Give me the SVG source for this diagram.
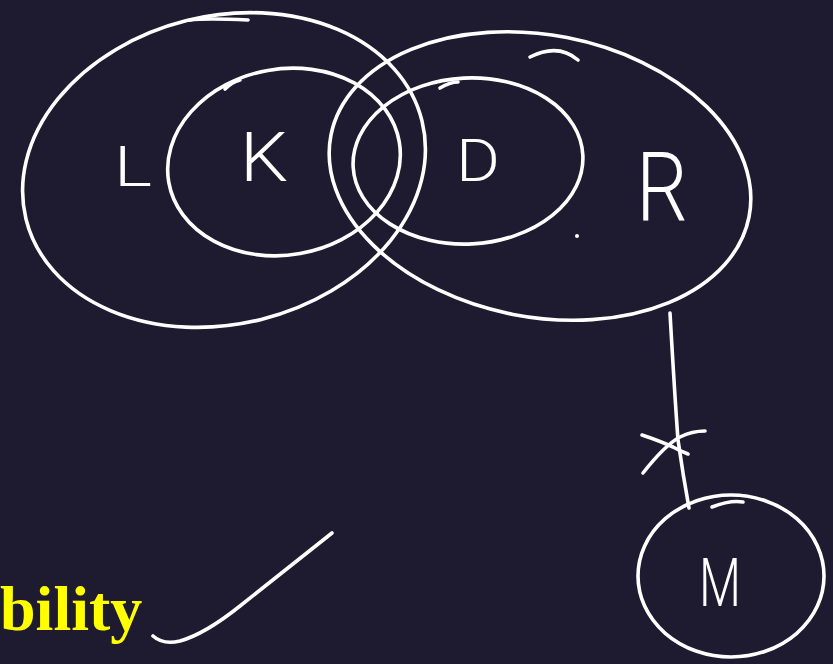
<svg xmlns="http://www.w3.org/2000/svg" width="833" height="664" viewBox="0 0 833 664">
<style>
.s{fill:none;stroke:#fff;stroke-width:3.6;stroke-linecap:round;stroke-linejoin:round}
.t{fill:#fff;font-family:Roboto,"Open Sans","DejaVu Sans",sans-serif;font-weight:300}
.y{fill:#ffff00;font-family:"Liberation Serif","Times New Roman",serif;font-weight:bold}
</style>
<rect width="833" height="664" fill="#1e1a30"/>
<g id="L">
<ellipse class="s" cx="224" cy="170" rx="204" ry="154" transform="rotate(-14 224 170)"/>
<path class="s" d="M248 20 C228 19 205 18 190 20"/>
<text class="t" x="114" y="186" font-size="56" textLength="38" lengthAdjust="spacingAndGlyphs">L</text>
</g>
<g id="K">
<ellipse class="s" cx="284" cy="162" rx="117" ry="93" transform="rotate(-10 284 162)"/>
<path class="s" d="M225 89 Q232 82 240 80"/>
<text class="t" x="240" y="181" font-size="68" textLength="48" lengthAdjust="spacingAndGlyphs">K</text>
</g>
<g id="R">
<ellipse class="s" cx="540" cy="176" rx="213" ry="141" transform="rotate(11 540 176)"/>
<path class="s" d="M530 57 Q558 43 578 60"/>
<text class="t" x="636" y="221" font-size="96" textLength="52" lengthAdjust="spacingAndGlyphs">R</text>
<circle cx="577" cy="236" r="2" fill="#fff"/>
</g>
<g id="D">
<ellipse class="s" cx="468" cy="161" rx="115" ry="83" transform="rotate(-3 468 161)"/>
<path class="s" d="M440 88 Q450 82 458 82"/>
<text class="t" x="456" y="181" font-size="60" textLength="44" lengthAdjust="spacingAndGlyphs">D</text>
</g>
<g id="M">
<ellipse class="s" cx="731" cy="576" rx="93" ry="81"/>
<path class="s" d="M712 507 Q730 500 743 502"/>
<text class="t" x="699" y="606" font-size="66" textLength="42" lengthAdjust="spacingAndGlyphs">M</text>
</g>
<g id="connectors">
<path class="s" d="M670 313 Q675 400 678 440 Q683 475 689 508"/>
<path class="s" d="M642 435 Q660 441 673 447 Q680 451 688 454"/>
<path class="s" d="M643 473 Q665 445 680 437 Q692 431 705 431"/>
</g>
<g id="label">
<text class="y" x="0" y="630" font-size="64">bility</text>
<path class="s" d="M153 636 Q163 645 180 641 Q205 634 240 606 L332 533"/>
</g>
</svg>
